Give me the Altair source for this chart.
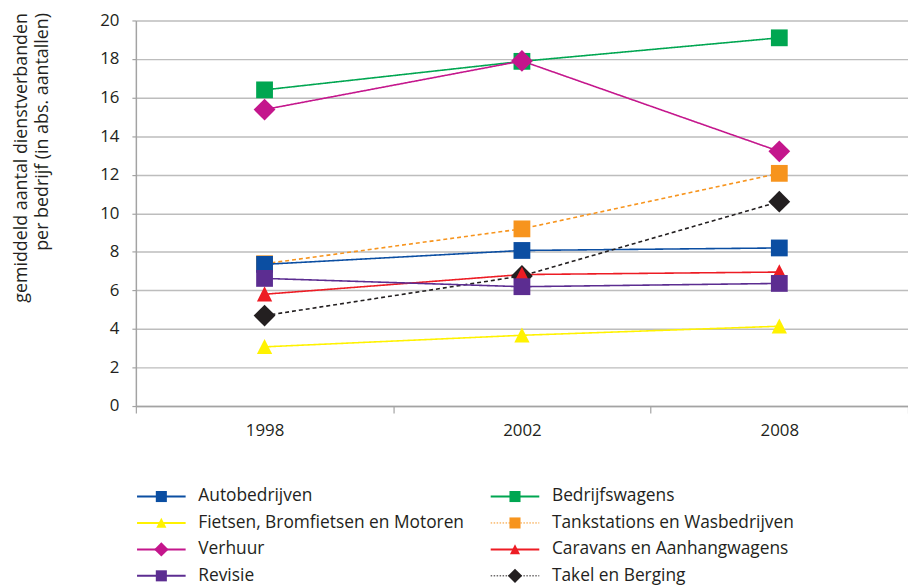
import altair as alt
import pandas as pd

# ---------------- data ----------------
years = ["1998", "2002", "2008"]

series = [
    "Autobedrijven",
    "Bedrijfswagens",
    "Fietsen, Bromfietsen en Motoren",
    "Tankstations en Wasbedrijven",
    "Verhuur",
    "Caravans en Aanhangwagens",
    "Revisie",
    "Takel en Berging",
]

autobedrijven = [7.35, 8.07, 8.2]
bedrijfswagens = [16.4, 17.88, 19.1]
fietsen = [3.07, 3.67, 4.14]
tankstations = [7.38, 9.19, 12.07]
verhuur = [15.38, 17.9, 13.21]
caravans = [5.8, 6.82, 6.95]
revisie = [6.62, 6.19, 6.36]
takel = [4.69, 6.75, 10.6]

values = {
    "Autobedrijven": autobedrijven,
    "Bedrijfswagens": bedrijfswagens,
    "Fietsen, Bromfietsen en Motoren": fietsen,
    "Tankstations en Wasbedrijven": tankstations,
    "Verhuur": verhuur,
    "Caravans en Aanhangwagens": caravans,
    "Revisie": revisie,
    "Takel en Berging": takel,
}

# drawing order (later = on top)
draw_order = [
    "Tankstations en Wasbedrijven",
    "Autobedrijven",
    "Bedrijfswagens",
    "Verhuur",
    "Takel en Berging",
    "Fietsen, Bromfietsen en Motoren",
    "Caravans en Aanhangwagens",
    "Revisie",
]

y_ticks = [0, 2, 4, 6, 8, 10, 12, 14, 16, 18, 20]
y_title = ["gemiddeld aantal dienstverbanden", "per bedrijf (in abs. aantallen)"]

# ---------------- styles ----------------
colors = ["#0B4EA2", "#00A651", "#FFF200", "#F7941D", "#C4168C", "#ED1C24", "#5C2D91", "#231F20"]
SQUARE = "M-0.77,-0.77H0.77V0.77H-0.77Z"
TRIANGLE = "M-0.7,0.66L0.7,0.66L0,-0.72Z"
DIAMOND = "M-1,0L0,-1L1,0L0,1Z"
shapes = [SQUARE, SQUARE, TRIANGLE, SQUARE, DIAMOND, TRIANGLE, SQUARE, DIAMOND]
dashed_series = ["Tankstations en Wasbedrijven", "Takel en Berging"]
dashes = [[4, 3] if s in dashed_series else [1, 0] for s in series]

FONT = "Open Sans"
TXT = "#231F20"
GRID = "#BDBDBD"
AX = "#A3A3A3"

rows = []
for s in draw_order:
    for yr, v in zip(years, values[s]):
        rows.append({"series": s, "year": yr, "value": v})
df = pd.DataFrame(rows)

color_enc = alt.Color("series:N", scale=alt.Scale(domain=series, range=colors), legend=None)
shape_enc = alt.Shape("series:N", scale=alt.Scale(domain=series, range=shapes), legend=None)

x_axis = alt.Axis(
    title=None,
    labelAngle=0,
    tickBand="extent",
    ticks=True,
    tickSize=7,
    tickColor=AX,
    tickWidth=1.2,
    domainColor=AX,
    domainWidth=1.5,
    labelFont=FONT,
    labelFontSize=17,
    labelColor=TXT,
    labelPadding=10,
    grid=False,
)
y_axis = alt.Axis(
    values=y_ticks,
    tickCount=30,
    format="d",
    labelOverlap=False,
    grid=True,
    gridColor=GRID,
    gridWidth=1.5,
    domainColor=AX,
    domainWidth=1.5,
    tickColor=AX,
    tickSize=4,
    tickWidth=1.2,
    labelFont=FONT,
    labelFontSize=17,
    labelColor=TXT,
    labelPadding=13,
    title=y_title,
    titleFont=FONT,
    titleFontSize=18,
    titleFontWeight="normal",
    titleColor=TXT,
    titleAngle=-90,
    titleAlign="right",
    titleBaseline="middle",
    titleX=-115,
    titleY=-8,
    titleLineHeight=21,
)
x_scale = alt.Scale(paddingInner=0, paddingOuter=0)
y_scale = alt.Scale(domain=[0, 20], nice=False)

lines = alt.Chart(df).mark_line(strokeWidth=1.6).encode(
    x=alt.X("year:O", sort=years, scale=x_scale, axis=x_axis),
    y=alt.Y("value:Q", scale=y_scale, axis=y_axis),
    color=color_enc,
    strokeDash=alt.StrokeDash("series:N", scale=alt.Scale(domain=series, range=dashes), legend=None),
    detail="series:N",
)
points = alt.Chart(df).mark_point(filled=True, opacity=1, size=484, strokeWidth=0).encode(
    x=alt.X("year:O", sort=years, scale=x_scale, axis=x_axis),
    y=alt.Y("value:Q", scale=y_scale, axis=y_axis),
    color=color_enc,
    shape=shape_enc,
)
main = alt.layer(lines, points)

# ---------------- legend (built from series list) ----------------
leg_rows = []
for i, s in enumerate(series):
    leg_rows.append({"entry": s, "col": i % 2, "row": i // 2})
leg = pd.DataFrame(leg_rows)

lx = alt.Scale(domain=[0, 1], range=[25.7, 382.5], nice=False, zero=False)
ly = alt.Scale(domain=[0, 3], range=[480.3, 560.3], nice=False, zero=False)
lcolor = alt.Color("entry:N", scale=alt.Scale(domain=series, range=colors), legend=None)
lshape = alt.Shape("entry:N", scale=alt.Scale(domain=series, range=shapes), legend=None)

leg_base = alt.Chart(leg).transform_calculate(
    xl="datum.col - 0.0687", xr="datum.col + 0.0687", xt="datum.col + 0.1045"
)
leg_solid = leg_base.transform_filter(
    ~alt.FieldOneOfPredicate(field="entry", oneOf=dashed_series)
).mark_rule(strokeWidth=2).encode(
    x=alt.X("xl:Q", scale=lx, axis=None),
    x2="xr:Q",
    y=alt.Y("row:Q", scale=ly, axis=None),
    color=lcolor,
)
leg_dot = leg_base.transform_filter(
    alt.FieldOneOfPredicate(field="entry", oneOf=dashed_series)
).mark_rule(strokeWidth=1, strokeDash=[1.5, 1.5]).encode(
    x=alt.X("xl:Q", scale=lx, axis=None),
    x2="xr:Q",
    y=alt.Y("row:Q", scale=ly, axis=None),
    color=lcolor,
)
leg_pts = leg_base.mark_point(filled=True, opacity=1, size=210, strokeWidth=0).encode(
    x=alt.X("col:Q", scale=lx, axis=None),
    y=alt.Y("row:Q", scale=ly, axis=None),
    color=lcolor,
    shape=lshape,
)
leg_txt = leg_base.mark_text(
    align="left", baseline="middle", font=FONT, fontSize=17.5, color=TXT
).encode(
    x=alt.X("xt:Q", scale=lx, axis=None),
    y=alt.Y("row:Q", scale=ly, axis=None),
    text="entry:N",
)
legend_layer = alt.layer(leg_solid, leg_dot, leg_pts, leg_txt)

chart = (
    alt.layer(main, legend_layer)
    .resolve_scale(x="independent", y="independent")
    .properties(
        width=779,
        height=389,
        autosize=alt.AutoSizeParams(type="none"),
        padding={"left": 129, "top": 10, "right": 0, "bottom": 181},
    )
    .configure_view(stroke=None)
)

chart.save("out.html", embed_options={"renderer": "svg", "actions": False})
